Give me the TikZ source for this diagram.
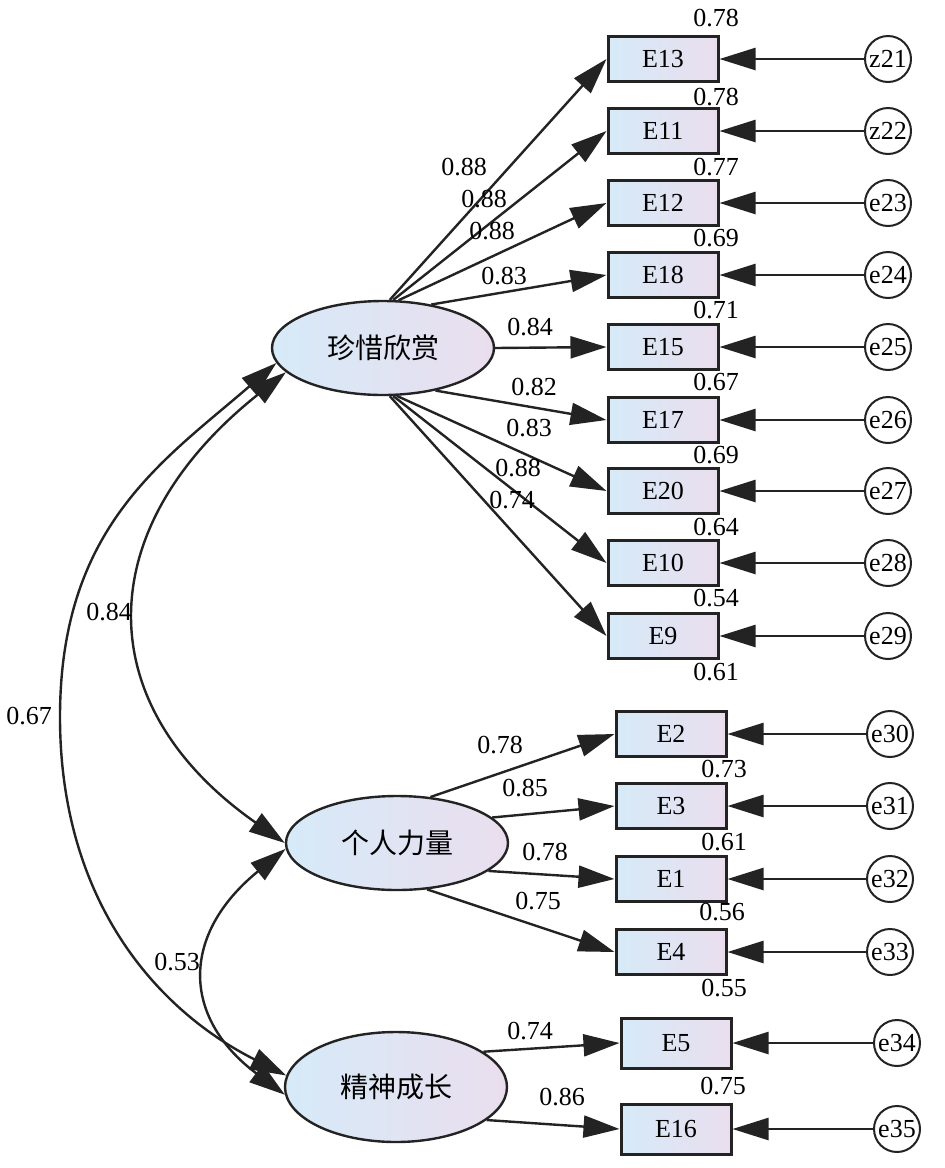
\documentclass[tikz,border=0pt]{standalone}
\usepackage{fontspec}
\setmainfont{Liberation Serif}
\newfontfamily\cjk{Noto Sans CJK SC}
\usetikzlibrary{arrows.meta,shapes.geometric}
\definecolor{boxL}{RGB}{214,234,248}
\definecolor{boxR}{RGB}{234,222,238}
\definecolor{edge}{RGB}{35,35,35}
\begin{document}
\begin{tikzpicture}[x=1pt,y=-1pt,
  arr/.style={line width=2.4pt,draw=edge,-{Triangle[length=36pt,width=22pt]}},
  covarr/.style={line width=2.4pt,draw=edge,{Triangle[length=36pt,width=22pt]}-{Triangle[length=36pt,width=22pt]}},
  obs/.style={draw=edge,line width=3pt,left color=boxL,right color=boxR,minimum width=110pt,minimum height=45pt,inner sep=0pt,font=\fontsize{26}{28}\selectfont},
  obsb/.style={obs,minimum height=50pt},
  err/.style={circle,draw=edge,line width=2pt,fill=white,minimum size=46pt,inner sep=0pt,font=\fontsize{26}{26}\selectfont},
  lat/.style={ellipse,draw=edge,line width=2.4pt,left color=boxL,right color=boxR,minimum width=222pt,minimum height=94pt,inner sep=0pt,font=\cjk\fontsize{28}{30}\selectfont},
  lbl/.style={inner sep=0pt,font=\fontsize{26}{28}\selectfont}
]
\useasboundingbox (0,0) rectangle (945,1168);
\fill[white] (0,0) rectangle (945,1168);

% latent variables
\node[lat] (L1) at (383,348) {珍惜欣赏};
\node[lat] (L2) at (397,843) {个人力量};
\node[lat,minimum height=110pt] (L3) at (396,1087) {精神成长};

% observed, top group
\node[obs] (E13) at (663,59) {E13};
\node[obs] (E11) at (663,131) {E11};
\node[obs] (E12) at (663,203) {E12};
\node[obs] (E18) at (663,275) {E18};
\node[obs] (E15) at (663,347) {E15};
\node[obs] (E17) at (663,420) {E17};
\node[obs] (E20) at (663,491) {E20};
\node[obs] (E10) at (663,563) {E10};
\node[obs] (E9) at (663,636) {E9};
% lower groups
\node[obs] (E2) at (671,734) {E2};
\node[obs] (E3) at (671,806) {E3};
\node[obs] (E1) at (671,879) {E1};
\node[obs] (E4) at (671,952) {E4};
\node[obsb] (E5) at (676,1043) {E5};
\node[obsb] (E16) at (676,1129) {E16};

% error terms
\node[err] (z21) at (888,59) {z21};
\node[err] (z22) at (888,131) {z22};
\node[err] (e23) at (888,203) {e23};
\node[err] (e24) at (888,275) {e24};
\node[err] (e25) at (888,347) {e25};
\node[err] (e26) at (888,420) {e26};
\node[err] (e27) at (888,491) {e27};
\node[err] (e28) at (888,563) {e28};
\node[err] (e29) at (888,636) {e29};
\node[err] (e30) at (890,734) {e30};
\node[err] (e31) at (890,806) {e31};
\node[err] (e32) at (890,879) {e32};
\node[err] (e33) at (890,952) {e33};
\node[err] (e34) at (897,1043) {e34};
\node[err] (e35) at (897,1129) {e35};

\foreach \e/\o in {z21/E13,z22/E11,e23/E12,e24/E18,e25/E15,e26/E17,e27/E20,e28/E10,e29/E9,e30/E2,e31/E3,e32/E1,e33/E4,e34/E5,e35/E16}
  \draw[arr] (\e) -- (\o);

% loadings
\draw[arr] (L1.82) -- (E13.west);
\draw[arr] (L1.78) -- (E11.west);
\draw[arr] (L1.72) -- (E12.west);
\draw[arr] (L1.42) -- (E18.west);
\draw[arr] (L1.east) -- (E15.west);
\draw[arr] (L1.-39) -- (E17.west);
\draw[arr] (L1.-74) -- (E20.west);
\draw[arr] (L1.-78) -- (E10.west);
\draw[arr] (L1.-82) -- (E9.west);
\draw[arr] (L2.54) -- (E2.west);
\draw[arr] (L2.15) -- (E3.west);
\draw[arr] (L2.-17) -- (E1.west);
\draw[arr] (L2.-57) -- (E4.west);
\draw[arr] (L3.22) -- (E5.west);
\draw[arr] (L3.-20) -- (E16.west);

% covariances
\coordinate (m67) at (60,717);
\draw[line width=2.4pt,draw=edge,{Triangle[length=36pt,width=22pt]}-] (L1.188) .. controls (163,461) and (60,527) .. (m67);
\draw[line width=2.4pt,draw=edge,-{Triangle[length=36pt,width=22pt]}] (m67) .. controls (60,897) and (153,1008) .. (L3.174);
\draw[covarr] (L1.194) .. controls (89,529) and (89,706) .. (L2.west);
\draw[covarr] (L2.183) .. controls (181,934) and (181,1017) .. (L3.184);

% covariance labels
\node[lbl] (c84) at (109,612) {0.84};
\node[lbl] (c67) at (29,716) {0.67};
\node[lbl] (c53) at (177,962) {0.53};

% loading labels
\node[lbl] at (464,167) {0.88};
\node[lbl] at (484,199) {0.88};
\node[lbl] at (492,231) {0.88};
\node[lbl] at (504,276) {0.83};
\node[lbl] at (530,327) {0.84};
\node[lbl] at (534,387) {0.82};
\node[lbl] at (529,428) {0.83};
\node[lbl] at (518,468) {0.88};
\node[lbl] at (512,500) {0.74};
\node[lbl] at (500,745) {0.78};
\node[lbl] at (525,788) {0.85};
\node[lbl] at (545,852) {0.78};
\node[lbl] at (538,901) {0.75};
\node[lbl] at (530,1031) {0.74};
\node[lbl] at (562,1097) {0.86};

% R2 labels
\node[lbl] at (716,18) {0.78};
\node[lbl] at (716,97) {0.78};
\node[lbl] at (716,167) {0.77};
\node[lbl] at (716,238) {0.69};
\node[lbl] at (716,310) {0.71};
\node[lbl] at (716,382) {0.67};
\node[lbl] at (716,455) {0.69};
\node[lbl] at (716,527) {0.64};
\node[lbl] at (716,598) {0.54};
\node[lbl] at (716,672) {0.61};
\node[lbl] at (724,769) {0.73};
\node[lbl] at (724,842) {0.61};
\node[lbl] at (722,912) {0.56};
\node[lbl] at (724,988) {0.55};
\node[lbl] at (723,1086) {0.75};
\end{tikzpicture}
\end{document}
